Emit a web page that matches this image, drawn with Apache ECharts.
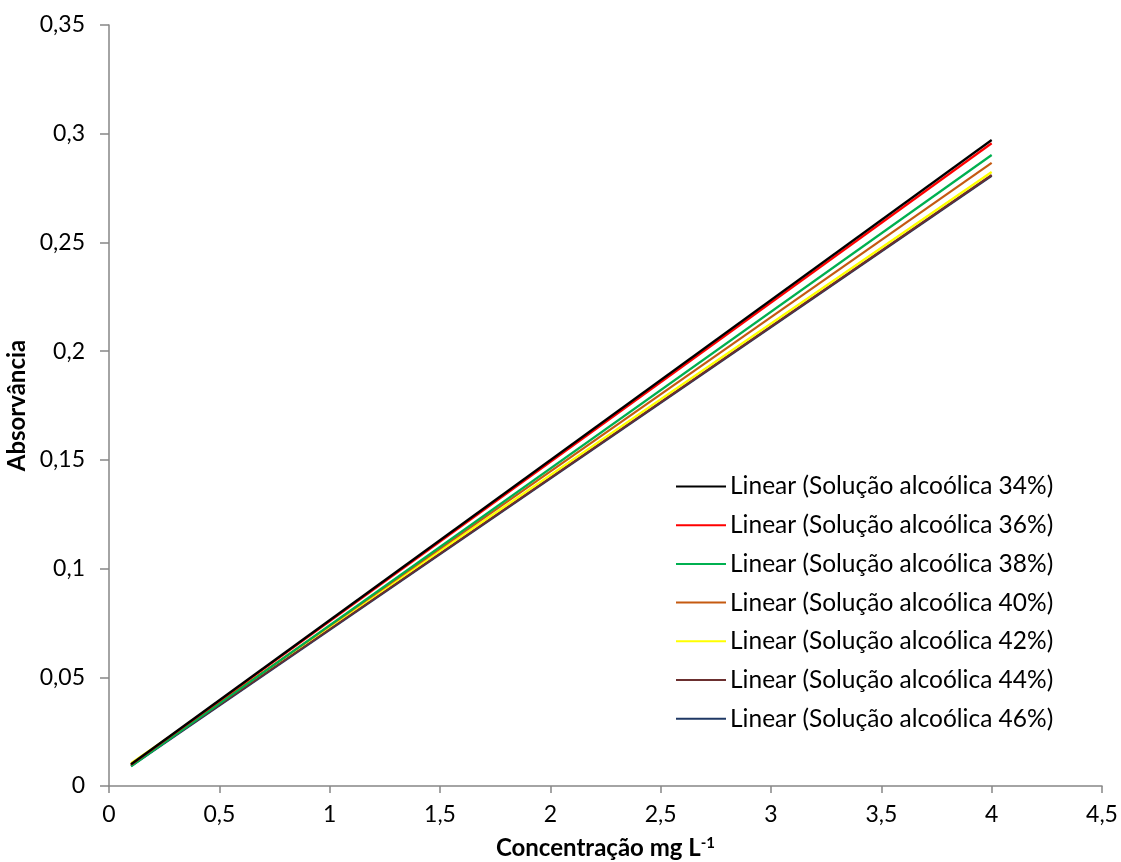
<!DOCTYPE html>
<html><head><meta charset="utf-8">
<script src="https://cdn.jsdelivr.net/npm/echarts@6/dist/echarts.min.js"></script>
<style>html,body{margin:0;padding:0;background:#fff}#c{width:1121px;height:862px}</style>
</head><body><div id="c"></div>
<script>
const xValues = [0.1, 4];
const seriesNames = [
  'Linear (Solução alcoólica 34%)',
  'Linear (Solução alcoólica 36%)',
  'Linear (Solução alcoólica 38%)',
  'Linear (Solução alcoólica 40%)',
  'Linear (Solução alcoólica 42%)',
  'Linear (Solução alcoólica 44%)',
  'Linear (Solução alcoólica 46%)'
];
const s34 = [0.0100, 0.2971];
const s36 = [0.0098, 0.2956];
const s38 = [0.0090, 0.2902];
const s40 = [0.0098, 0.2866];
const s42 = [0.0105, 0.2824];
const s44 = [0.0095, 0.2810];
const s46 = [0.0092, 0.2806];
const seriesValues = [s34, s36, s38, s40, s42, s44, s46];
const colors = ['#000000', '#FF0000', '#00B050', '#C55A11', '#FFFF00', '#6B2F2F', '#1F3864'];
const xTicks = [0, 0.5, 1, 1.5, 2, 2.5, 3, 3.5, 4, 4.5];
const yTicks = [0, 0.05, 0.1, 0.15, 0.2, 0.25, 0.3, 0.35];

const font = 'Lato, "Open Sans", sans-serif';
const fmt = v => String(+v.toFixed(2)).replace('.', ',');
const chart = echarts.init(document.getElementById('c'), null, {renderer: 'canvas'});
const axisCol = '#868686';
chart.setOption({
  animation: false,
  backgroundColor: '#fff',
  grid: {left: 109, right: 19, top: 25, bottom: 76, containLabel: false, outerBoundsMode: 'none'},
  legend: {
    orient: 'vertical', left: 671, top: 469, itemWidth: 50, itemHeight: 14, itemGap: 13.7,
    textStyle: {fontFamily: font, fontSize: 24.5, lineHeight: 24, color: '#000', padding: [0,0,0,-1]},
    data: seriesNames.map(n => ({name: n, icon: 'path://M0,0 L50,0 L50,2 L0,2 Z'}))
  },
  xAxis: {
    type: 'value', min: xTicks[0], max: xTicks[xTicks.length-1], interval: 0.5,
    name: 'Concentração mg L{sup|-1}', nameLocation: 'middle', nameGap: 50,
    nameTextStyle: {fontFamily: font, fontSize: 24, fontWeight: 'bold', color: '#000',
      rich: {sup: {fontFamily: font, fontSize: 15, fontWeight: 'bold', color: '#000', verticalAlign: 'top', padding: [0,0,10,0]}}},
    axisLine: {lineStyle: {color: axisCol, width: 1.5}},
    axisTick: {show: true, inside: false, length: 7, lineStyle: {color: axisCol, width: 1.5}},
    axisLabel: {fontFamily: font, fontSize: 23, color: '#000', margin: 17, formatter: fmt},
    splitLine: {show: false}
  },
  yAxis: {
    type: 'value', min: yTicks[0], max: yTicks[yTicks.length-1], interval: 0.05,
    name: 'Absorvância', nameLocation: 'middle', nameGap: 70, nameRotate: 90,
    nameTextStyle: {fontFamily: font, fontSize: 24, fontWeight: 'bold', color: '#000'},
    axisLine: {show: true, lineStyle: {color: axisCol, width: 1.5}},
    axisTick: {show: true, inside: false, length: 9, lineStyle: {color: axisCol, width: 1.5}},
    axisLabel: {fontFamily: font, fontSize: 23, color: '#000', margin: 24, formatter: fmt},
    splitLine: {show: false}
  },
  series: seriesNames.map((n, i) => ({
    name: n, type: 'line', symbol: 'none', showSymbol: false,
    data: xValues.map((x, j) => [x, seriesValues[i][j]]),
    lineStyle: {color: colors[i], width: 2.25},
    itemStyle: {color: colors[i]},
    z: 10 - i
  }))
});
</script></body></html>
